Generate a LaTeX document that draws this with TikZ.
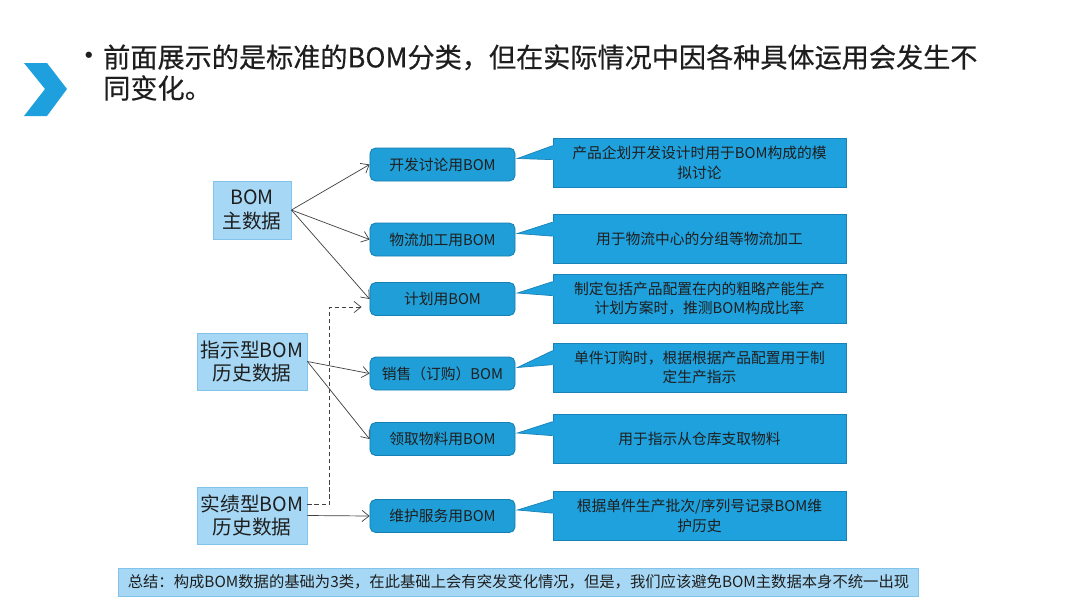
\documentclass[tikz,border=0pt]{standalone}
\usepackage{fontspec}
\setmainfont{Noto Sans CJK SC}
\newfontfamily\headfont[FakeBold=0.4]{Noto Sans CJK SC}
\usepackage{xcolor}
\usepackage{tikz}
\usetikzlibrary{arrows.meta,calc}

\definecolor{chevblue}{RGB}{30,160,222}
\definecolor{midblue}{RGB}{31,158,215}
\definecolor{midline}{RGB}{22,128,180}
\definecolor{notefill}{RGB}{30,161,221}
\definecolor{noteline}{RGB}{25,130,185}
\definecolor{lightfill}{RGB}{166,216,245}
\definecolor{lightline}{RGB}{130,195,235}
\definecolor{txt}{RGB}{30,30,30}

\begin{document}
\begin{tikzpicture}[x=0.025cm, y=-0.025cm,
    srcbox/.style={draw=lightline, fill=lightfill, line width=0.6pt, inner sep=0pt,
        align=center, font=\fontsize{14}{17}\selectfont, text=txt},
    usebox/.style={draw=midline, fill=midblue, rounded corners=4pt, line width=0.6pt,
        minimum width=3.625cm, minimum height=0.825cm, inner sep=0pt,
        font=\fontsize{10.5}{13}\selectfont, text=txt},
    notebox/.style={draw=noteline, fill=notefill, line width=0.5pt,
        minimum width=7.325cm, minimum height=1.225cm, inner sep=0pt,
        align=center, font=\fontsize{10.5}{14}\selectfont, text=txt},
    link/.style={draw=black!75, line width=0.5pt, ->},
    >={Straight Barb[length=5pt,width=8pt]}]

    \fill[white] (0,0) rectangle (1080,608);
    \useasboundingbox (0,0) rectangle (1080,608);

    % Header
    \fill[chevblue] (24,63) -- (47,63) -- (67,89) -- (47,116) -- (24,116) -- (45,89) -- cycle;
    \node[text=txt, font=\fontsize{21}{21}\selectfont] (bullet) at (89,59) {\textbullet};
    \node[anchor=west, inner sep=0pt, align=left, text=txt,
        font=\headfont\fontsize{19.3}{22}\selectfont] (title) at (103,72.5)
        {前面展示的是标准的BOM分类，但在实际情况中因各种具体运用会发生不\\同变化。};

    % Source data
    \node[srcbox, minimum width=1.95cm, minimum height=1.45cm] (bommain) at (252,210) {BOM\\主数据};
    \node[srcbox, minimum width=2.75cm, minimum height=1.425cm] (instr) at (252,361.5) {指示型BOM\\历史数据};
    \node[srcbox, minimum width=2.75cm, minimum height=1.425cm] (actual) at (252,515.5) {实绩型BOM\\历史数据};

    % BOM uses
    \node[usebox] (devbom) at (442.5,164.5) {开发讨论用BOM};
    \node[usebox] (logbom) at (442.5,239.5) {物流加工用BOM};
    \node[usebox] (planbom) at (442.5,299) {计划用BOM};
    \node[usebox] (salebom) at (442.5,373.5) {销售（订购）BOM};
    \node[usebox] (pickbom) at (442.5,439) {领取物料用BOM};
    \node[usebox] (servbom) at (442.5,516) {维护服务用BOM};

    % Notes
    \node[notebox] (devnote) at (699.5,162.5) {产品企划开发设计时用于BOM构成的模\\拟讨论};
    \node[notebox] (lognote) at (699.5,239) {用于物流中心的分组等物流加工};
    \node[notebox] (plannote) at (699.5,298.5) {制定包括产品配置在内的粗略产能生产\\计划方案时，推测BOM构成比率};
    \node[notebox] (salenote) at (699.5,367.5) {单件订购时，根据根据产品配置用于制\\定生产指示};
    \node[notebox] (picknote) at (699.5,438.5) {用于指示从仓库支取物料};
    \node[notebox] (servnote) at (699.5,516) {根据单件生产批次/序列号记录BOM维\\护历史};

    % Callout pointers
    \foreach \m/\n in {devbom/devnote, logbom/lognote, planbom/plannote,
                       salebom/salenote, pickbom/picknote, servbom/servnote} {
        \fill[notefill] ($(\n.north west)+(0,8)$) -- ($(\m.east)+(2,-6)$)
            -- ($(\n.north west)+(0,22)$) -- ++(2,0) -- ++(0,-14) -- cycle;
        \draw[noteline, line width=0.5pt] ($(\n.north west)+(0,8)$)
            -- ($(\m.east)+(2,-6)$) -- ($(\n.north west)+(0,22)$);
    }

    % Links
    \draw[link] (bommain.east) -- (devbom.west);
    \draw[link] (bommain.east) -- (logbom.west);
    \draw[link] (bommain.east) -- (planbom.west);
    \draw[link] (instr.east) -- (salebom.west);
    \draw[link] (instr.east) -- (pickbom.west);
    \draw[link] (actual.east) -- (servbom.west);
    \draw[link, dash pattern=on 3pt off 2pt] ([yshift=0.27cm]actual.east) -- ++(22,0)
        |- ([xshift=-0.2cm, yshift=-0.2cm]planbom.west);

    % Summary
    \node[draw=lightline, fill=lightfill, line width=0.6pt, minimum width=19.975cm,
        minimum height=0.7cm, inner sep=0pt, text=txt,
        font=\fontsize{10.9}{13}\selectfont] (summary) at (518.5,582)
        {总结：构成BOM数据的基础为3类，在此基础上会有突发变化情况，但是，我们应该避免BOM主数据本身不统一出现};
\end{tikzpicture}
\end{document}
